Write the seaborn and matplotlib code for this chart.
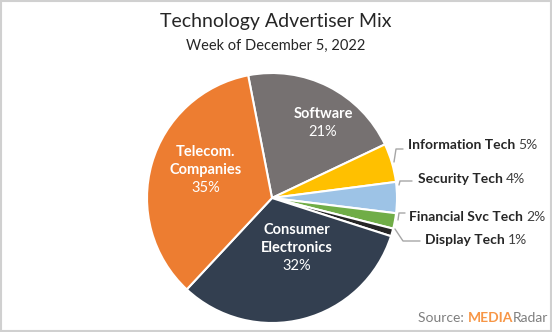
import matplotlib
matplotlib.use("Agg")
import matplotlib.pyplot as plt
from matplotlib.patches import Rectangle
from matplotlib.lines import Line2D
import seaborn as sns
import numpy as np

# ---- data ----
categories = ["Software", "Information Tech", "Security Tech", "Financial Svc Tech",
              "Display Tech", "Consumer Electronics", "Telecom. Companies"]
shares = [21, 5, 4, 2, 1, 32, 35]
colors = ["#767171", "#FFC000", "#9DC3E6", "#70AD47", "#262626", "#333F50", "#ED7D31"]
title = "Technology Advertiser Mix"
subtitle = "Week of December 5, 2022"

sns.set_style("white")
plt.rcParams['font.family'] = ['Lato', 'DejaVu Sans']

W, H = 552, 332
fig = plt.figure(figsize=(W / 100, H / 100), dpi=100)
fig.patch.set_facecolor("white")
fig.add_artist(Rectangle((0.001, 0.002), 0.997, 0.995, transform=fig.transFigure,
                         fill=False, edgecolor="#D0D0D0", lw=1.5))

def fx(x):
    return x / W

def fy(y):
    return 1 - y / H

cx, cy, R = 272, 198, 125
ax = fig.add_axes([(cx - R) / W, (H - cy - R) / H, 2 * R / W, 2 * R / H])
ax.pie(shares, colors=colors, startangle=101, counterclock=False,
       wedgeprops=dict(edgecolor="white", linewidth=1.5))
ax.set_xlim(-1, 1)
ax.set_ylim(-1, 1)
ax.axis("off")

fig.text(fx(276), fy(22), title, ha="center", va="center", fontsize=14, color="#262626")
fig.text(fx(276), fy(46), subtitle, ha="center", va="center", fontsize=10.5, color="#262626")

# inside labels
def inside(x, y, lines, pct):
    n = len(lines)
    step = 18
    y0 = y - step * n / 2
    for i, ln in enumerate(lines):
        fig.text(fx(x), fy(y0 + i * step), ln, ha="center", va="center",
                 fontsize=10.5, fontweight="bold", color="white")
    fig.text(fx(x), fy(y0 + n * step), f"{pct}%", ha="center", va="center",
             fontsize=10.5, color="white")

inside(323, 123, ["Software"], shares[0])
inside(206, 170, ["Telecom.", "Companies"], shares[6])
inside(297, 248, ["Consumer", "Electronics"], shares[5])

fig.canvas.draw()
renderer = fig.canvas.get_renderer()

def outside(x, y, name, pct):
    t = fig.text(fx(x), fy(y), name, ha="left", va="center", fontsize=10,
                 fontweight="bold", color="#262626")
    bb = t.get_window_extent(renderer)
    fig.text(fx(bb.x1 + 3), fy(y), f"{pct}%", ha="left", va="center",
             fontsize=10, color="#404040")

outside(408, 145, categories[1], shares[1])
outside(418, 179, categories[2], shares[2])
outside(409, 217, categories[3], shares[3])
outside(425, 240, categories[4], shares[4])

def leader(pts):
    xs = [fx(p[0]) for p in pts]
    ys = [fy(p[1]) for p in pts]
    fig.add_artist(Line2D(xs, ys, transform=fig.transFigure, color="#A6A6A6", lw=1))

leader([(394, 162), (396, 149), (403, 149)])
leader([(399, 185), (400, 181), (412, 181)])
leader([(398, 220), (399, 213), (405, 213)])
leader([(395, 229), (403, 241), (420, 241)])

# source
parts = [("Source: ", "normal", "#7F7F7F"), ("MEDIA", "bold", "#F79646"), ("Radar", "normal", "#7F7F7F")]
xs = 418
for txt, wt, col in parts:
    t = fig.text(fx(xs), fy(318), txt, ha="left", va="center", fontsize=10,
                 fontweight=wt, color=col)
    bb = t.get_window_extent(renderer)
    xs = bb.x1

fig.savefig("out.png", dpi=100, facecolor="white")
